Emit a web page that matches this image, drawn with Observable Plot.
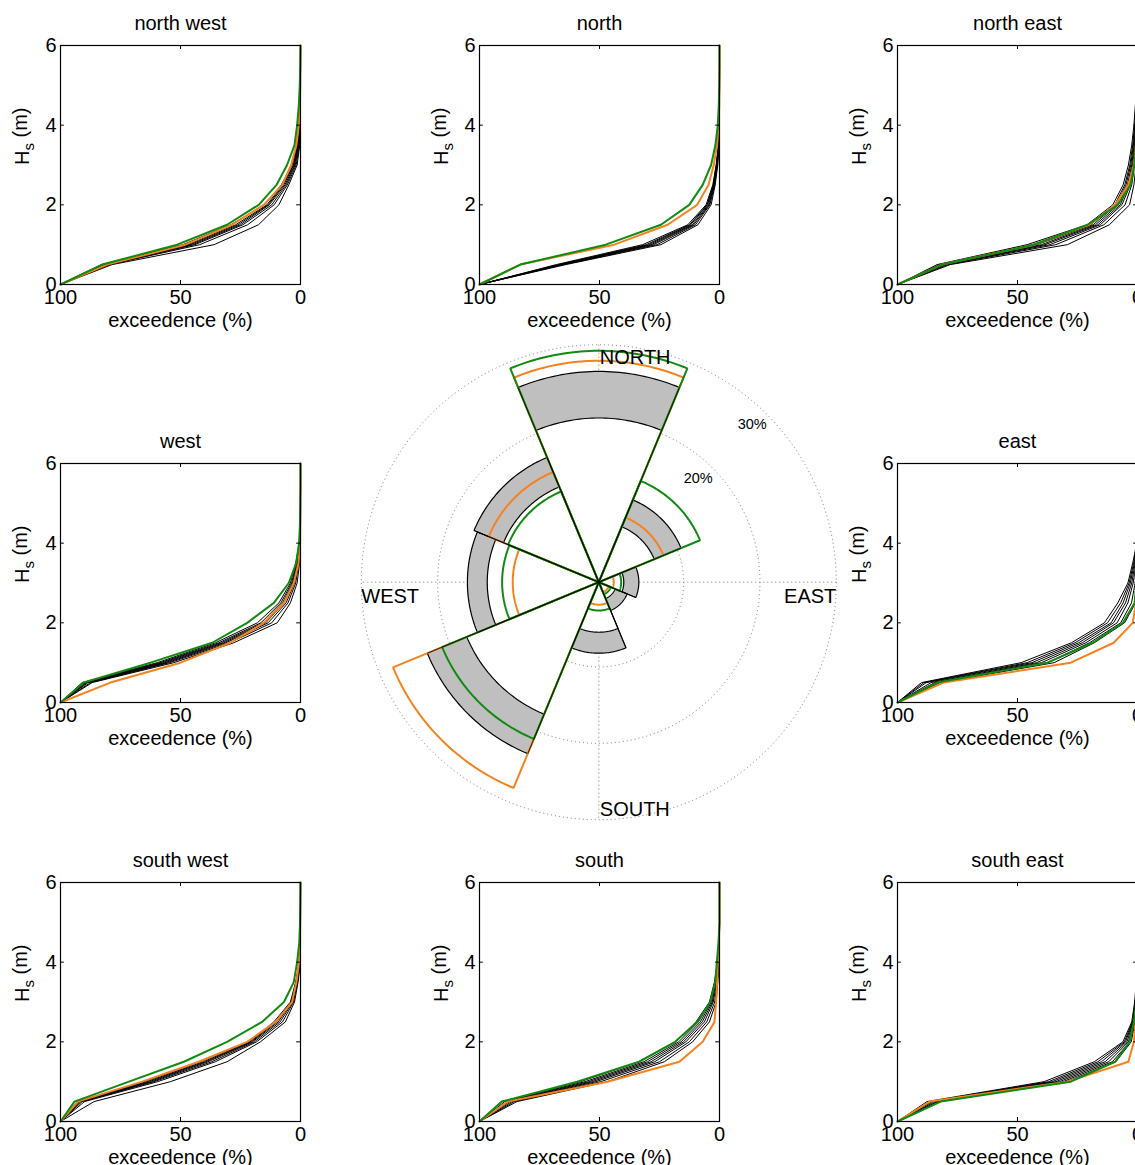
<!DOCTYPE html>
<html>
<head>
<meta charset="utf-8">
<script src="https://cdn.jsdelivr.net/npm/d3@7"></script>
<script src="https://cdn.jsdelivr.net/npm/@observablehq/plot@0.6"></script>
<style>
  html, body { margin: 0; padding: 0; background: #fff; }
  #fig { position: relative; width: 1135px; height: 1165px; overflow: hidden; background: #fff; }
  #fig > div { position: absolute; }
  #fig svg { overflow: visible; max-width: none !important; }
</style>
</head>
<body>
<div id="fig"></div>
<script>
// ---------- wave-height exceedence curves ----------
// significant wave height levels (m) at which exceedence is tabulated
const hsLevels = [0, 0.5, 1, 1.5, 2, 2.5, 3, 3.5, 4, 4.5, 5, 5.5, 6];
const xTicks = [100, 50, 0];
const yTicks = [0, 2, 4, 6];

// north west
const nwEnsemble = [
  [100, 83, 49, 29, 15, 8, 3.5, 1.4, 0.3, 0],
  [100, 82, 47, 27, 14, 7.5, 3, 1.2, 0.2, 0],
  [100, 81.5, 46, 26, 13.5, 7, 2.8, 1, 0.2, 0],
  [100, 81, 45, 25, 13, 6.5, 2.5, 0.9, 0],
  [100, 80, 44, 24, 12, 6, 2.2, 0.7, 0],
  [100, 79.5, 42, 22, 11, 5.5, 1.8, 0.5, 0],
  [100, 78.5, 36, 17.5, 9, 4.9, 1.4, 0.3, 0]
];
const nwOrange = [100, 80.6, 48, 28.5, 15.3, 7.6, 3.9, 1.7, 0.7, 0.3, 0.1, 0, 0];
const nwGreen = [100, 82.6, 51.4, 30.6, 17.4, 10, 5.6, 2.5, 1.4, 0.7, 0.3, 0.1, 0];

// north
const nEnsemble = [
  [100, 68, 32, 13.2, 5.6, 2.8, 1.4, 0.5, 0],
  [100, 67, 30.5, 12.5, 5.2, 2.6, 1.3, 0.4, 0],
  [100, 66.5, 29.5, 12, 5, 2.5, 1.2, 0.4, 0],
  [100, 66, 28.5, 11.3, 4.6, 2.3, 1.1, 0.3, 0],
  [100, 65.5, 27.5, 10.7, 4.3, 2.2, 1, 0.3, 0],
  [100, 65, 26, 10, 4, 2, 0.9, 0.2, 0],
  [100, 64, 24.4, 9, 3.5, 1.8, 0.7, 0.1, 0]
];
const nOrange = [100, 83, 43.9, 21.6, 9.3, 4.6, 2.4, 1, 0.4, 0.1, 0, 0, 0];
const nGreen = [100, 83, 47.4, 24.4, 12.6, 7, 3.5, 1.7, 0.7, 0.3, 0.1, 0, 0];

// north east
const neEnsemble = [
  [100, 83.5, 46, 21, 10.3, 6, 3.8, 2.4, 1.5, 0.9, 0],
  [100, 82.5, 44, 19.5, 9.5, 5.3, 3.2, 2, 1.2, 0.7, 0],
  [100, 82, 42, 18.5, 8.8, 4.8, 2.8, 1.7, 1, 0.5, 0],
  [100, 81, 40, 17.5, 8, 4.2, 2.4, 1.4, 0.8, 0.3, 0],
  [100, 80.5, 38.5, 16.5, 7.2, 3.6, 2, 1.1, 0.6, 0.2, 0],
  [100, 80, 36.5, 15.5, 6.5, 3, 1.6, 0.9, 0.5, 0],
  [100, 79, 34, 14, 5.2, 2.4, 1.2, 0.6, 0.3, 0],
  [100, 78, 29.2, 11.7, 3.3, 1.5, 0.6, 0.3, 0.2, 0]
];
const neOrange = [100, 81.5, 43, 20.1, 9.3, 3.8, 1.5, 0.6, 0.2, 0.1, 0, 0, 0];
const neGreen = [100, 81.5, 43, 20.8, 8.2, 2.9, 1.3, 0.6, 0.3, 0.1, 0, 0, 0];

// west
const wEnsemble = [
  [100, 91, 59.7, 35.4, 18, 9, 4.2, 2, 0.5, 0],
  [100, 90, 58.5, 34, 16.5, 8.2, 3.7, 1.7, 0.4, 0],
  [100, 89.5, 57.5, 33, 15.5, 7.5, 3.3, 1.5, 0.3, 0],
  [100, 89, 56.5, 32, 14.5, 6.8, 3, 1.2, 0.2, 0],
  [100, 88.5, 55.5, 31, 13.5, 6, 2.5, 1, 0.1, 0],
  [100, 87.5, 54.5, 29.5, 12, 5.2, 2, 0.7, 0],
  [100, 86.8, 52.8, 27.8, 9.7, 4.2, 1.4, 0.4, 0]
];
const wOrange = [100, 79.2, 50, 29.2, 15.3, 6.9, 2.8, 0.8, 0.2, 0.1, 0, 0, 0];
const wGreen = [100, 90.3, 62.5, 36.8, 22.2, 11.1, 4.9, 1.8, 0.6, 0.2, 0.1, 0, 0];

// east
const eEnsemble = [
  [100, 90, 48.5, 27.5, 13.8, 8.2, 4, 2, 0.3, 0],
  [100, 89, 46, 26, 12.5, 7, 3.5, 1.6, 0.2, 0],
  [100, 88, 44, 24.5, 11, 6, 3, 1.3, 0.1, 0],
  [100, 86, 42, 23, 10, 5, 2.4, 1, 0],
  [100, 84.5, 40, 21.5, 8.5, 4, 1.8, 0.6, 0],
  [100, 83.5, 37.5, 20, 7, 2.5, 1, 0.3, 0],
  [100, 82.2, 34.7, 18, 5.4, 0.8, 0.2, 0.1, 0]
];
const eOrange = [100, 80.8, 27.8, 9.9, 2, 0.6, 0.2, 0.1, 0, 0, 0, 0, 0];
const eGreen = [100, 83.5, 37.5, 18.7, 6.1, 1.2, 0.5, 0.2, 0.1, 0, 0, 0, 0];

// south west
const swEnsemble = [
  [100, 93, 65.3, 41.7, 21.5, 11.1, 4.2, 2, 0.5, 0],
  [100, 92.5, 64, 40.5, 21, 10.5, 4, 1.9, 0.4, 0],
  [100, 92, 63, 39.5, 20.5, 10, 3.8, 1.8, 0.4, 0],
  [100, 91.5, 62, 38.5, 20, 9.3, 3.5, 1.6, 0.3, 0],
  [100, 91, 61, 37, 19.2, 8.5, 3.2, 1.4, 0.2, 0],
  [100, 90, 59.5, 35.5, 18.3, 7.5, 2.9, 1.2, 0.1, 0],
  [100, 86, 54.2, 30.6, 16.7, 6.3, 2.5, 1, 0]
];
const swOrange = [100, 92.8, 66, 42.4, 22.2, 10.4, 3.5, 1.7, 0.6, 0.2, 0.1, 0, 0];
const swGreen = [100, 94.2, 71.5, 48.6, 30.6, 16, 6.9, 2.8, 1.4, 0.5, 0.2, 0.1, 0];

// south
const sEnsemble = [
  [100, 90.7, 57.9, 33.5, 18.1, 9.8, 4.2, 2.1, 0.8, 0],
  [100, 89.5, 56, 31.5, 17, 8.8, 3.8, 1.9, 0.7, 0],
  [100, 88.5, 54.5, 30, 16, 8, 3.4, 1.7, 0.6, 0],
  [100, 87.5, 53, 28.5, 15, 7.2, 3, 1.5, 0.5, 0],
  [100, 86.5, 51.5, 27, 14, 6.3, 2.6, 1.2, 0.4, 0],
  [100, 85.5, 49.5, 25, 12.6, 5.3, 2, 1, 0.2, 0],
  [100, 84.4, 46.7, 23, 11.2, 4.2, 1.4, 0.7, 0]
];
const sOrange = [100, 88.3, 46.7, 16.7, 7, 2.1, 1.4, 1, 0.7, 0.3, 0, 0, 0];
const sGreen = [100, 90.7, 59.3, 33.5, 18.5, 9.3, 3.8, 1.8, 1.1, 0.4, 0, 0, 0];

// south east
const seEnsemble = [
  [100, 87.7, 38.9, 18, 6.1, 2.4, 1.2, 0.5, 0],
  [100, 86.5, 37, 16.5, 5.5, 2.1, 1, 0.4, 0],
  [100, 85.5, 35.5, 15, 5, 1.9, 0.9, 0.3, 0],
  [100, 84.5, 34, 13.5, 4.4, 1.7, 0.8, 0.2, 0],
  [100, 83.5, 32.5, 12, 3.8, 1.4, 0.6, 0.1, 0],
  [100, 83, 31, 10.5, 3.2, 1.2, 0.5, 0],
  [100, 82.2, 29.5, 9, 2.6, 1, 0.4, 0]
];
const seOrange = [100, 86.6, 29.1, 3.8, 1.5, 0.8, 0.3, 0.1, 0, 0, 0, 0, 0];
const seGreen = [100, 82, 27.8, 9.3, 3.3, 1.5, 0.5, 0.2, 0, 0, 0, 0, 0];

// ---------- directional rose (% of time per sector) ----------
const roseDirections = ["N", "NE", "E", "SE", "S", "SW", "W", "NW"];
const roseBearings = [0, 45, 90, 135, 180, 225, 270, 315];
const roseEnsembleMin = [20.4, 6.75, 2.16, 1.2, 5.44, 17.6, 13.5, 12.4];
const roseEnsembleMax = [26.5, 10.55, 4.13, 2.9, 8.19, 23.2, 16.1, 16.58];
const roseOrange = [27.9, 8.06, 0.85, 0.3, 1.83, 28.06, 10.16, 14.5];
const roseGreen = [29.2, 13.24, 1.82, 0.6, 2.6, 21.1, 11.55, 11.75];
const roseRings = [10, 20, 30];
const ringLabels = [{p: 20, text: "20%"}, {p: 30, text: "30%"}];
const compassLabels = ["NORTH", "EAST", "SOUTH", "WEST"];

// ---------- drawing ----------
const FONT = "'Liberation Sans', Arial, Helvetica, sans-serif";
const ORANGE = "#f5821f";
const GREEN = "#118a11";
const fig = document.getElementById("fig");
const W = 1135, H = 1165;

function place(node, left, top, w, h) {
  const wrap = document.createElement("div");
  wrap.style.left = left + "px";
  wrap.style.top = top + "px";
  wrap.style.width = w + "px";
  wrap.style.height = h + "px";
  wrap.appendChild(node);
  fig.appendChild(wrap);
}

// rose
const cx = 598.3, cy = 581.7;
const rScale = d3.scaleLinear().domain([0, 30]).range([8.5, 237.5]);
function polar(bearing, pct) {
  const r = rScale(pct), a = bearing * Math.PI / 180;
  return {x: cx + r * Math.sin(a), y: cy - r * Math.cos(a)};
}
function wedges(values) {
  const rows = [];
  values.forEach((v, i) => {
    const b = roseBearings[i];
    rows.push({id: i, x: cx, y: cy});
    const n = 40;
    for (let k = 0; k <= n; k++) {
      const p = polar(b - 22.5 + 45 * k / n, v);
      rows.push({id: i, x: p.x, y: p.y});
    }
  });
  return rows;
}
// radial sector edges of the ensemble envelope, drawn over the coloured outlines
const envelopeEdges = roseEnsembleMax.flatMap((v, i) => [-22.5, 22.5].map(s => polar(roseBearings[i] + s, v)));
const spokes = [
  {a: polar(0, 30), b: polar(180, 30)},
  {a: polar(90, 30), b: polar(270, 30)}
];
const nP = polar(0, 30), sP = polar(180, 30), eP = polar(90, 30), wP = polar(270, 30);
const compassPos = [
  {text: compassLabels[0], x: nP.x + 1, y: nP.y, dy: 13, anchor: "start"},
  {text: compassLabels[1], x: eP.x, y: eP.y, dy: 14, anchor: "end"},
  {text: compassLabels[2], x: sP.x + 1, y: sP.y, dy: -10, anchor: "start"},
  {text: compassLabels[3], x: wP.x, y: wP.y, dy: 14, anchor: "start"}
];

const rose = Plot.plot({
  width: W, height: H, margin: 0,
  x: {domain: [0, W], range: [0, W], axis: null},
  y: {domain: [0, H], range: [0, H], axis: null},
  style: {background: "transparent", fontFamily: FONT, overflow: "visible"},
  marks: [
    ...roseRings.map(p => Plot.dot([{x: cx, y: cy}], {x: "x", y: "y", r: rScale(p), fill: "none", stroke: "#777", strokeWidth: 1, strokeDasharray: "1,3"})),
    Plot.link(spokes, {x1: d => d.a.x, y1: d => d.a.y, x2: d => d.b.x, y2: d => d.b.y, stroke: "#777", strokeWidth: 1, strokeDasharray: "1,3"}),
    Plot.line(wedges(roseEnsembleMax), {x: "x", y: "y", z: "id", curve: "linear-closed", fill: "#bfbfbf", stroke: "black", strokeWidth: 1.2, strokeLinejoin: "miter"}),
    Plot.line(wedges(roseEnsembleMin), {x: "x", y: "y", z: "id", curve: "linear-closed", fill: "white", stroke: "black", strokeWidth: 1.2, strokeLinejoin: "miter"}),
    Plot.line(wedges(roseOrange), {x: "x", y: "y", z: "id", curve: "linear-closed", fill: "none", stroke: ORANGE, strokeWidth: 2, strokeLinejoin: "miter"}),
    Plot.line(wedges(roseGreen), {x: "x", y: "y", z: "id", curve: "linear-closed", fill: "none", stroke: GREEN, strokeWidth: 2, strokeLinejoin: "miter"}),
    Plot.link(envelopeEdges, {x1: () => cx, y1: () => cy, x2: "x", y2: "y", stroke: "black", strokeWidth: 1, strokeOpacity: 0.75}),
    ...compassPos.map(c => Plot.text([c], {x: "x", y: "y", text: "text", dy: c.dy, textAnchor: c.anchor, fontSize: 20, fill: "black"})),
    Plot.text(ringLabels, {x: d => polar(45, d.p).x, y: d => polar(45, d.p).y, text: "text", dy: 10, textAnchor: "end", fontSize: 14.5, fill: "black"})
  ]
});
place(rose, 0, 0, W, H);

// exceedence panels
const panels = [
  {title: "north west", col: 0, row: 0, ens: nwEnsemble, orange: nwOrange, green: nwGreen},
  {title: "north", col: 1, row: 0, ens: nEnsemble, orange: nOrange, green: nGreen},
  {title: "north east", col: 2, row: 0, ens: neEnsemble, orange: neOrange, green: neGreen},
  {title: "west", col: 0, row: 1, ens: wEnsemble, orange: wOrange, green: wGreen},
  {title: "east", col: 2, row: 1, ens: eEnsemble, orange: eOrange, green: eGreen},
  {title: "south west", col: 0, row: 2, ens: swEnsemble, orange: swOrange, green: swGreen},
  {title: "south", col: 1, row: 2, ens: sEnsemble, orange: sOrange, green: sGreen},
  {title: "south east", col: 2, row: 2, ens: seEnsemble, orange: seOrange, green: seGreen}
];

function curveRows(values, id) {
  return values.map((e, i) => ({id, e, h: hsLevels[i]}));
}

const PW = 418, PH = 418;
for (const p of panels) {
  const ensRows = p.ens.flatMap((c, i) => curveRows(c, i));
  const svg = Plot.plot({
    width: PW, height: PH,
    marginLeft: 60, marginTop: 45, marginRight: 118, marginBottom: 134,
    x: {domain: [100, 0], ticks: xTicks, tickSize: 0, tickPadding: 5, tickFormat: d => String(d), label: null},
    y: {domain: [0, 6], ticks: yTicks, tickSize: 0, tickPadding: 4, tickFormat: d => String(d), label: null},
    style: {background: "transparent", fontFamily: FONT, fontSize: "20px", color: "black", overflow: "visible"},
    marks: [
      Plot.line(ensRows, {x: "e", y: "h", z: "id", stroke: "black", strokeWidth: 1}),
      Plot.line(curveRows(p.orange, "o"), {x: "e", y: "h", stroke: ORANGE, strokeWidth: 2}),
      Plot.line(curveRows(p.green, "g"), {x: "e", y: "h", stroke: GREEN, strokeWidth: 2}),
      Plot.ruleX(xTicks, {y1: 0, y2: 0.1, stroke: "black"}),
      Plot.ruleX(xTicks, {y1: 5.9, y2: 6, stroke: "black"}),
      Plot.ruleY(yTicks, {x1: 100, x2: 98.4, stroke: "black"}),
      Plot.ruleY(yTicks, {x1: 1.6, x2: 0, stroke: "black"}),
      Plot.frame({stroke: "black", strokeWidth: 1.2}),
      Plot.text([p.title], {frameAnchor: "top", lineAnchor: "middle", dy: -22, text: d => d, fontSize: 20, fill: "black"}),
      Plot.text(["exceedence (%)"], {frameAnchor: "bottom", lineAnchor: "middle", dy: 36, text: d => d, fontSize: 20, fill: "black"}),
      Plot.text(["Hs (m)"], {frameAnchor: "left", lineAnchor: "middle", dx: -38, rotate: -90, text: d => d, fontSize: 20, fill: "black", className: "hs-label"})
    ]
  });
  // subscript "s" in the wave-height label
  d3.select(svg).selectAll(".hs-label text").each(function () {
    const t = d3.select(this);
    t.text(null);
    t.append("tspan").text("H");
    t.append("tspan").attr("dy", "0.35em").attr("font-size", "15px").text("s");
    t.append("tspan").attr("dy", "-0.35em").text(" (m)");
  });
  place(svg, p.col * 418.65, p.row * 418.35, PW, PH);
}
</script>
</body>
</html>
